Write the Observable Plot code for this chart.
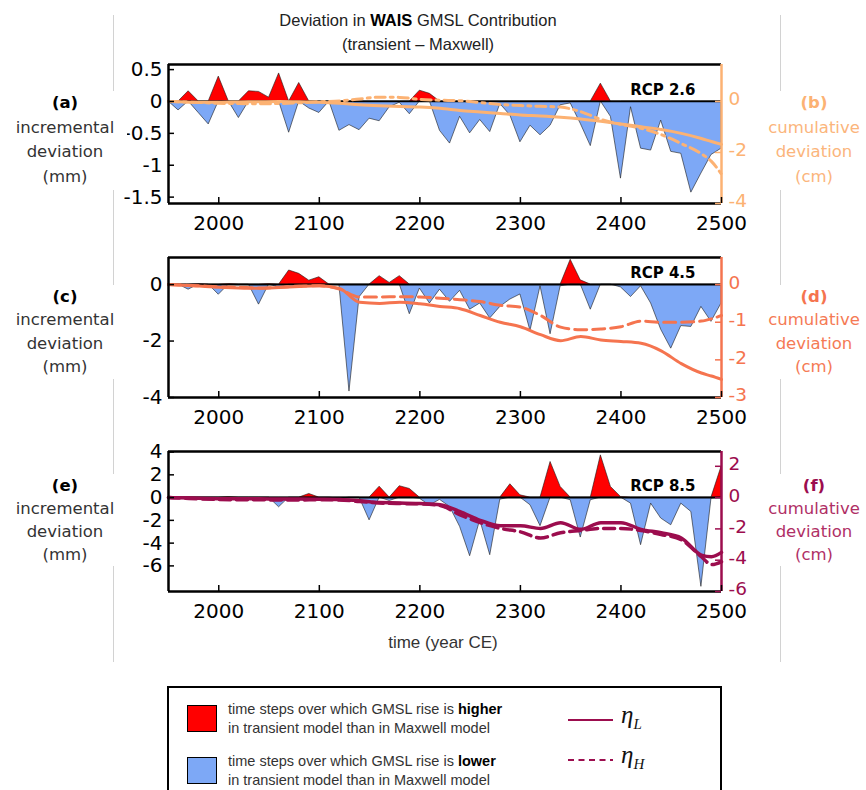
<!DOCTYPE html>
<html><head><meta charset="utf-8">
<script src="https://cdn.jsdelivr.net/npm/d3@7"></script>
<script src="https://cdn.jsdelivr.net/npm/@observablehq/plot@0.6"></script>
<style>
body{margin:0;background:#fff;}
#root{position:relative;width:866px;height:790px;overflow:hidden;background:#fff;font-family:"Liberation Sans",Arial,sans-serif;}
.abs{position:absolute;}
.side{position:absolute;text-align:center;font-family:"DejaVu Sans",sans-serif;font-size:16.5px;background:#fff;white-space:nowrap;}
.vline{position:absolute;top:15px;height:647px;width:1px;background:#d2d2d2;}
.title{position:absolute;left:218px;width:400px;text-align:center;font-family:"Liberation Sans",Arial,sans-serif;font-size:16.5px;color:#222;}
.lg{position:absolute;font-family:"Liberation Sans",Arial,sans-serif;font-size:14.5px;line-height:19px;color:#333;white-space:nowrap;}
.sw{position:absolute;width:28px;height:25px;border:1.5px solid #000;}
.eta{position:absolute;font-family:"Liberation Serif","DejaVu Serif",serif;font-style:italic;font-size:25px;color:#111;}
.eta sub{font-size:15px;}
</style></head><body><div id="root"></div>
<script>
// ---------- data ----------
const years = [1950,1960,1970,1980,1990,2000,2010,2020,2030,2040,2050,2060,2070,2080,2090,2100,2110,2120,2130,2140,2150,2160,2170,2180,2190,2200,2210,2220,2230,2240,2250,2260,2270,2280,2290,2300,2310,2320,2330,2340,2350,2360,2370,2380,2390,2400,2410,2420,2430,2440,2450,2460,2470,2480,2490,2500];
// incremental deviation (mm), RCP 2.6
const incA = [0,-0.14,0.16,-0.18,-0.36,0.39,0,-0.26,0.16,0.15,0.06,0.44,-0.49,0.29,-0.11,-0.18,0,-0.46,-0.37,-0.45,-0.27,-0.31,-0.09,-0.02,-0.2,0.17,0.12,-0.46,-0.66,-0.24,-0.5,-0.29,-0.48,-0.04,-0.22,-0.64,-0.38,-0.53,-0.38,-0.06,-0.03,-0.35,-0.7,0.28,-0.24,-1.21,-0.09,-0.74,-0.77,-0.3,-0.79,-0.82,-1.43,-1.13,-0.84,-0.74];
// RCP 4.5
const incC = [0,0,-0.18,0.02,0,-0.36,0.02,0,0,-0.71,0.02,-0.1,0.5,0.38,0.14,0.26,0,-0.02,-3.79,-0.45,0,0.3,0.06,0.3,-1.05,-0.14,-0.67,-0.18,-0.61,-0.22,-0.89,-0.67,-1.2,-0.79,-0.53,-0.35,-1.64,-0.06,-1.76,-0.06,0.88,0.15,-0.89,0,0,-0.1,-0.44,-0.06,-0.67,-1.6,-2.27,-1.47,-1.5,-0.79,-1.32,-0.67];
// RCP 8.5
const incE = [0,0,0,0,0,0,0.05,0,0,0,0,-0.85,0,0,0.32,0,0,-0.1,0,0,-2.0,0.96,-0.3,1.0,0.76,-0.1,-0.7,-0.2,-0.82,-2.57,-5.15,-1.99,-5.06,-0.18,1.17,0.2,-0.67,-2.51,3.13,0.94,-0.23,-3.51,-0.23,3.71,0.94,0.06,-0.53,-4.18,-0.53,-1.84,-2.43,-0.53,-1.26,-7.84,-0.1,2.7];

const lineYears = [1950,1960,1980,2000,2020,2040,2060,2080,2100,2120,2140,2160,2180,2200,2220,2240,2260,2280,2300,2320,2340,2360,2380,2400,2420,2440,2460,2480,2490,2500];
// cumulative deviation (cm)
const cumLA = [0,-0.01,-0.03,-0.03,-0.02,-0.01,0,-0.01,-0.03,-0.07,-0.13,-0.17,-0.2,-0.22,-0.27,-0.35,-0.41,-0.47,-0.53,-0.57,-0.62,-0.69,-0.78,-0.88,-0.99,-1.1,-1.25,-1.45,-1.57,-1.68];
const cumHA = [0,-0.01,-0.04,-0.07,-0.08,-0.09,-0.08,-0.05,-0.01,0.02,0.1,0.17,0.16,0.08,0.05,0.03,-0.04,-0.12,-0.16,-0.19,-0.22,-0.4,-0.7,-0.9,-1.05,-1.3,-1.65,-2.05,-2.35,-2.85];
const cumLC = [0,-0.01,-0.04,-0.07,-0.09,-0.1,-0.08,-0.05,-0.03,-0.1,-0.47,-0.5,-0.47,-0.51,-0.58,-0.64,-0.82,-1.0,-1.12,-1.33,-1.49,-1.38,-1.47,-1.51,-1.56,-1.76,-2.1,-2.35,-2.43,-2.52];
const cumHC = [0,-0.01,-0.03,-0.06,-0.07,-0.09,-0.07,-0.04,-0.03,-0.12,-0.33,-0.33,-0.32,-0.33,-0.36,-0.4,-0.45,-0.55,-0.6,-0.82,-1.13,-1.2,-1.18,-1.12,-0.97,-1.0,-1.0,-0.97,-0.91,-0.82];
const cumLE = [0,-0.01,-0.04,-0.07,-0.08,-0.08,-0.09,-0.09,-0.1,-0.12,-0.2,-0.32,-0.34,-0.38,-0.45,-0.9,-1.45,-1.8,-1.8,-1.97,-1.6,-2.03,-1.6,-1.6,-2.03,-2.25,-2.58,-3.67,-3.78,-3.5];
const cumHE = [0,-0.02,-0.08,-0.12,-0.14,-0.14,-0.15,-0.15,-0.14,-0.15,-0.25,-0.35,-0.38,-0.4,-0.5,-1.1,-1.6,-1.97,-2.19,-2.58,-2.25,-2.1,-1.97,-1.97,-2.1,-2.36,-2.69,-3.78,-4.28,-4.1];

const xTicks = [2000,2100,2200,2300,2400,2500];
const leftTicksA = [0.5,0,-0.5,-1,-1.5];
const rightTicksA = [0,-2,-4];
const leftTicksC = [0,-2,-4];
const rightTicksC = [0,-1,-2,-3];
const leftTicksE = [4,2,0,-2,-4,-6];
const rightTicksE = [2,0,-2,-4,-6];
const scenarios = ["RCP 2.6","RCP 4.5","RCP 8.5"];

// ---------- styles ----------
const RED = "#ff0000", BLUE = "#7da8f6";
const COL_A = "#fcb273", COL_C = "#f5744f", COL_E = "#9c0d4e";

const root = document.getElementById("root");
function add(html){ root.insertAdjacentHTML("beforeend", html); }

function makePanel(cfg){
  const bars = years.map((t,i) => ({t, v: cfg.inc[i]}));
  const cum = lineYears.map((t,i) => ({t, L: cfg.cumL[i]*cfg.factor, H: cfg.cumH[i]*cfg.factor}));
  const frameH = cfg.height - cfg.mt - cfg.mb;
  const frameW = 866 - 168 - 145;
  const [y0, y1] = cfg.domain;
  const rt = cfg.rightTicks.map(c => c*cfg.factor);
  const svg = Plot.plot({
    width: 866, height: cfg.height,
    marginLeft: 168, marginRight: 145, marginTop: cfg.mt, marginBottom: cfg.mb,
    x: {domain: [1950, 2500], axis: null},
    y: {domain: cfg.domain, axis: null},
    style: {fontFamily: "DejaVu Sans, sans-serif", fontSize: "20px", background: "transparent", overflow: "visible", color: "#000"},
    marks: [
      Plot.areaY(bars, {x: "t", y1: 0, y2: d => Math.max(d.v, 0), fill: RED, stroke: "#1a1a1a", strokeWidth: 0.6}),
      Plot.areaY(bars, {x: "t", y1: 0, y2: d => Math.min(d.v, 0), fill: BLUE, stroke: "#1a1a1a", strokeWidth: 0.6}),
      Plot.ruleY([0], {stroke: "#000", strokeWidth: 1.6}),
      Plot.lineY(cum, {x: "t", y: "L", stroke: cfg.color, strokeWidth: cfg.lw, curve: "monotone-x"}),
      Plot.lineY(cum, {x: "t", y: "H", stroke: cfg.color, strokeWidth: cfg.lw, strokeDasharray: cfg.dash, curve: "monotone-x"}),
      Plot.ruleY([y1], {stroke: "#000", strokeWidth: 2.5}),
      Plot.ruleY([y0], {stroke: "#000", strokeWidth: 2.5}),
      Plot.ruleX([1950], {stroke: "#000", strokeWidth: 2.5}),
      Plot.ruleX([2500], {stroke: cfg.color, strokeWidth: 2.5}),
      Plot.tickY(cfg.leftTicks, {y: d => d, stroke: "#000", strokeWidth: 1.5, insetRight: frameW - 6}),
      Plot.tickY(rt, {y: d => d, stroke: cfg.color, strokeWidth: 1.5, insetLeft: frameW - 6}),
      Plot.tickX(xTicks, {x: d => d, stroke: "#000", strokeWidth: 1.5, insetTop: frameH - 6}),
      Plot.axisX(xTicks, {tickSize: 0, tickPadding: 12, tickFormat: d => String(d), label: null}),
      Plot.axisY(cfg.leftTicks, {anchor: "left", tickSize: 0, tickPadding: 6, tickFormat: d => String(d), label: null}),
      Plot.axisY(rt, {anchor: "right", tickSize: 0, tickPadding: 7, dy: -2, tickFormat: d => String(Math.round(d/cfg.factor)), color: cfg.color, label: null, fontSize: 18.5}),
      Plot.text([cfg.rcp], {text: d => d, frameAnchor: "right", y: () => 0, dx: -26, dy: -11, textAnchor: "end", fontWeight: "bold", fontSize: 15, fill: "#000"})
    ]
  });
  svg.style.position = "absolute";
  svg.style.left = "0px";
  svg.style.top = cfg.top + "px";
  root.appendChild(svg);
}

// decorations
add('<div class="vline" style="left:113px"></div>');
add('<div class="vline" style="left:780px"></div>');
add('<div class="title" style="top:11px">Deviation in <b style="color:#000">WAIS</b> GMSL Contribution</div>');
add('<div class="title" style="top:35px">(transient – Maxwell)</div>');

makePanel({inc: incA, cumL: cumLA, cumH: cumHA, domain: [-1.6, 0.58], factor: 0.4, leftTicks: leftTicksA, rightTicks: rightTicksA, color: COL_A, dash: "10,5,3,5", lw: 3, rcp: scenarios[0], top: 40, height: 200, mt: 24, mb: 37});
makePanel({inc: incC, cumL: cumLC, cumH: cumHC, domain: [-4, 0.96], factor: 4/3, leftTicks: leftTicksC, rightTicks: rightTicksC, color: COL_C, dash: "12,6", lw: 3, rcp: scenarios[1], top: 235, height: 200, mt: 22, mb: 38});
makePanel({inc: incE, cumL: cumLE, cumH: cumHE, domain: [-8.25, 4.05], factor: 1.375, leftTicks: leftTicksE, rightTicks: rightTicksE, color: COL_E, dash: "11,6", lw: 3.5, rcp: scenarios[2], top: 430, height: 200, mt: 21, mb: 39});

function sideLabels(letter, lines, left, top, lh, color, bcolor){
  add('<div class="side" style="left:' + left + 'px;width:124px;top:' + top + 'px;line-height:' + lh + 'px;color:' + color + '"><b style="color:' + bcolor + '">' + letter + '</b><br>' + lines.join('<br>') + '</div>');
}
sideLabels("(a)", ["incremental","deviation","(mm)"], 3, 91, 24.7, "#333", "#000");
sideLabels("(c)", ["incremental","deviation","(mm)"], 3, 285, 23.4, "#333", "#000");
sideLabels("(e)", ["incremental","deviation","(mm)"], 3, 474, 23, "#333", "#000");
sideLabels("(b)", ["cumulative","deviation","(cm)"], 752, 91, 24.7, "#fbb57c", COL_A);
sideLabels("(d)", ["cumulative","deviation","(cm)"], 752, 285, 23.4, "#f57a55", COL_C);
sideLabels("(f)", ["cumulative","deviation","(cm)"], 752, 474, 23, "#b02f66", COL_E);

add('<div class="abs" style="left:343px;width:200px;top:633px;text-align:center;font-size:17px;color:#333;font-family:\'Liberation Sans\',Arial,sans-serif">time (year CE)</div>');

// legend
add('<div class="abs" style="left:167px;top:686px;width:551px;height:120px;border:2px solid #000;background:#fff">' +
  '<div class="sw" style="left:18px;top:17px;background:' + RED + '"></div>' +
  '<div class="lg" style="left:59px;top:12px">time steps over which GMSL rise is <b style="color:#000">higher</b><br>in transient model than in Maxwell model</div>' +
  '<div class="sw" style="left:18px;top:69px;background:' + BLUE + '"></div>' +
  '<div class="lg" style="left:59px;top:64px">time steps over which GMSL rise is <b style="color:#000">lower</b><br>in transient model than in Maxwell model</div>' +
  '<svg style="position:absolute;left:0;top:0" width="551" height="110">' +
  '<line x1="399" x2="444" y1="32" y2="32" stroke="' + COL_E + '" stroke-width="2"/>' +
  '<line x1="399" x2="444" y1="72" y2="72" stroke="' + COL_E + '" stroke-width="2" stroke-dasharray="6,4.5"/>' +
  '</svg>' +
  '<div class="eta" style="left:452px;top:13px">η<sub>L</sub></div>' +
  '<div class="eta" style="left:452px;top:53px">η<sub>H</sub></div>' +
  '</div>');
</script></body></html>
